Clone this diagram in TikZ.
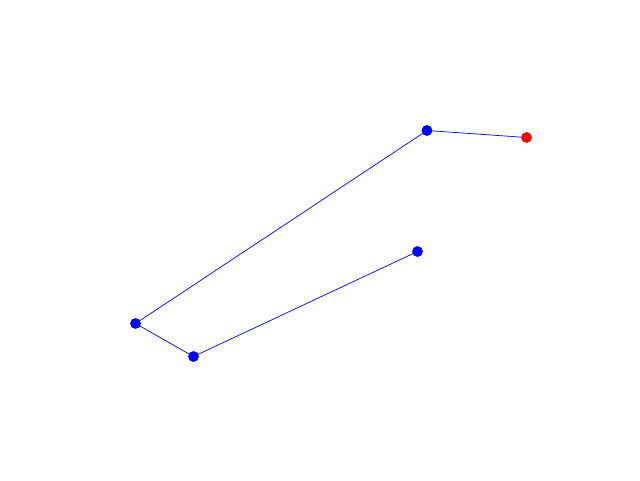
\documentclass[tikz,border=0pt]{standalone}
\begin{document}
\begin{tikzpicture}[x=1pt,y=-1pt,
  dotb/.style={circle,fill=blue,inner sep=0pt,minimum size=10.5pt},
  dotr/.style={circle,fill=red,inner sep=0pt,minimum size=10.5pt},
  link/.style={blue,line width=0.7pt}]
\useasboundingbox[fill=white] (0,0) rectangle (640,480);
\node[dotb] (a) at (427,130.5) {};
\node[dotr] (b) at (526.5,137.5) {};
\node[dotb] (c) at (135.5,323.5) {};
\node[dotb] (d) at (193.5,356.5) {};
\node[dotb] (e) at (417.5,251.5) {};
\draw[link] (b.center) -- (a.center) -- (c.center) -- (d.center) -- (e.center);
\node[dotb] at (a) {};
\node[dotr] at (b) {};
\node[dotb] at (c) {};
\node[dotb] at (d) {};
\node[dotb] at (e) {};
\end{tikzpicture}
\end{document}
